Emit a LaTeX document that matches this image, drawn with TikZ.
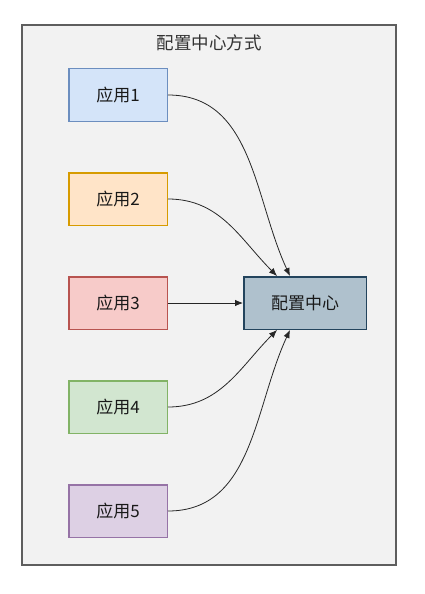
\documentclass[tikz,border=0pt]{standalone}
\usepackage{fontspec}
\newfontfamily\cjk{Noto Sans CJK SC}
\usepackage{xcolor}
\usepackage{tikz}
\usetikzlibrary{positioning,arrows.meta}

\definecolor{frameFill}{HTML}{F2F2F2}
\definecolor{frameLine}{HTML}{5E5E5E}
\definecolor{titleText}{HTML}{333333}
\definecolor{blueFill}{HTML}{D4E4F9}
\definecolor{blueLine}{HTML}{6C8EBF}
\definecolor{orangeFill}{HTML}{FFE4C8}
\definecolor{orangeLine}{HTML}{D79B00}
\definecolor{redFill}{HTML}{F7CBC9}
\definecolor{redLine}{HTML}{B85450}
\definecolor{greenFill}{HTML}{D2E6D0}
\definecolor{greenLine}{HTML}{82B366}
\definecolor{purpleFill}{HTML}{DDD0E4}
\definecolor{purpleLine}{HTML}{9673A6}
\definecolor{hubFill}{HTML}{AFC1CD}
\definecolor{hubLine}{HTML}{23445D}

\tikzset{
  appbox/.style={draw, line width=1.5pt, minimum width=98.5pt, minimum height=52.5pt,
    font=\cjk\fontsize{17}{20}\selectfont, text=black!90},
  link/.style={line width=0.8pt, draw=black!85, -{Latex[length=8pt,width=6.5pt]}}
}

\begin{document}
\begin{tikzpicture}[x=1pt,y=-1pt]
  \useasboundingbox (0,0) rectangle (425,594);

  % outer frame
  \filldraw[fill=frameFill, draw=frameLine, line width=2pt] (22,25) rectangle (396,565);
  \node[font=\cjk\fontsize{17.5}{20}\selectfont, text=titleText] (title) at (209,43) {配置中心方式};

  % applications
  \node[appbox, fill=blueFill, draw=blueLine] (app1) at (118,95) {应用1};
  \node[appbox, fill=orangeFill, draw=orangeLine] (app2) at (118,199) {应用2};
  \node[appbox, fill=redFill, draw=redLine] (app3) at (118,303) {应用3};
  \node[appbox, fill=greenFill, draw=greenLine] (app4) at (118,407) {应用4};
  \node[appbox, fill=purpleFill, draw=purpleLine] (app5) at (118,511) {应用5};

  % config center
  \node[appbox, fill=hubFill, draw=hubLine, minimum width=122.5pt] (hub) at (305,303) {配置中心};

  \draw[link] (app1.east) to[out=0, in=115] ([xshift=-15pt]hub.north);
  \draw[link] (app2.east) to[out=0, in=135] ([xshift=-28pt]hub.north);
  \draw[link] (app3.east) -- (hub.west);
  \draw[link] (app4.east) to[out=0, in=-135] ([xshift=-28pt]hub.south);
  \draw[link] (app5.east) to[out=0, in=-115] ([xshift=-15pt]hub.south);
\end{tikzpicture}
\end{document}
